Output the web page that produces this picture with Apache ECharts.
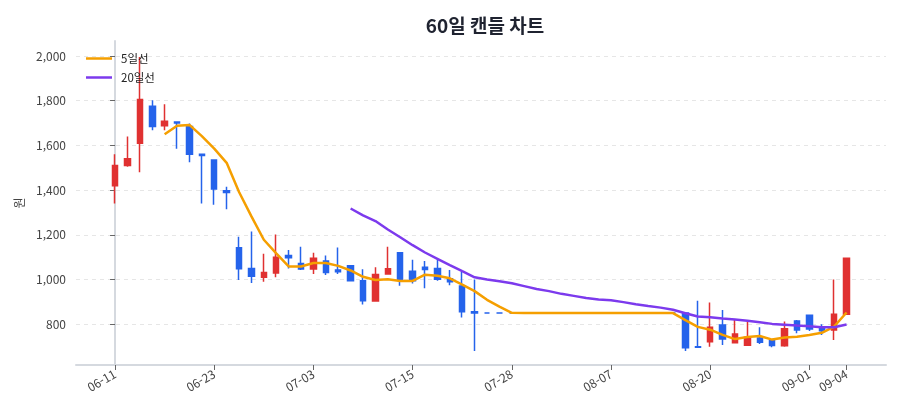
<!DOCTYPE html>
<html lang="ko">
<head>
  <meta charset="UTF-8">
  <title>60일 캔들 차트</title>
  <script src="https://cdn.jsdelivr.net/npm/echarts@6/dist/echarts.min.js"></script>
  <style>
    html, body {
      margin: 0;
      padding: 0;
      background: #fff;
    }

    #main {
      width: 900px;
      height: 420px;
    }
  </style>
</head>
<body>
<div id="main"></div>
<script>
  // 거래일 (07-25 없음, 08-15 휴장)
  var dates = ['06-11', '06-12', '06-13', '06-16', '06-17', '06-18', '06-19', '06-20', '06-23', '06-24',
    '06-25', '06-26', '06-27', '06-30', '07-01', '07-02', '07-03', '07-04', '07-07', '07-08',
    '07-09', '07-10', '07-11', '07-14', '07-15', '07-16', '07-17', '07-18', '07-21', '07-22',
    '07-23', '07-24', '07-28', '07-29', '07-30', '07-31', '08-01', '08-04', '08-05', '08-06',
    '08-07', '08-08', '08-11', '08-12', '08-13', '08-14', '08-18', '08-19', '08-20', '08-21',
    '08-22', '08-25', '08-26', '08-27', '08-28', '08-29', '09-01', '09-02', '09-03', '09-04']

  var openP = [1420, 1510, 1610, 1775, 1688, 1705, 1685, 1560, 1535, 1397,
    1142, 1050, 1010, 1030, 1108, 1072, 1047, 1083, 1043, 1062,
    995, 904, 1025, 1120, 1037, 1055, 1050, 1004, 971, 856,
    850, 850, 850, 850, 850, 850, 850, 850, 850, 850,
    850, 850, 850, 850, 850, 850, 850, 700, 722, 797,
    718, 706, 739, 727, 704, 815, 840, 789, 775, 845]
  var closeP = [1510, 1540, 1805, 1685, 1708, 1700, 1560, 1555, 1405, 1390,
    1048, 1015, 1032, 1100, 1098, 1047, 1095, 1032, 1035, 995,
    905, 1023, 1048, 998, 995, 1045, 1001, 990, 856, 850,
    850, 850, 850, 850, 850, 850, 850, 850, 850, 850,
    850, 850, 850, 850, 850, 850, 695, 697, 787, 734,
    757, 742, 720, 705, 780, 775, 779, 771, 845, 1095]
  var lowP = [1340, 1505, 1480, 1668, 1668, 1585, 1525, 1340, 1335, 1315,
    998, 985, 990, 1010, 1050, 1043, 1025, 1020, 1025, 992,
    889, 901, 1025, 972, 983, 961, 995, 975, 830, 681,
    850, 850, 850, 850, 850, 850, 850, 850, 850, 850,
    850, 850, 850, 850, 850, 850, 681, 696, 700, 708,
    715, 706, 712, 697, 700, 760, 770, 752, 730, 843]
  var highP = [1560, 1640, 1995, 1802, 1784, 1708, 1698, 1562, 1535, 1415,
    1192, 1215, 1115, 1202, 1132, 1147, 1120, 1108, 1144, 1064,
    1046, 1055, 1147, 1120, 1089, 1083, 1089, 1043, 1035, 1000,
    850, 850, 850, 850, 850, 850, 850, 850, 850, 850,
    850, 850, 850, 850, 850, 850, 850, 905, 898, 864,
    819, 812, 787, 733, 812, 819, 840, 800, 1000, 1095]

  // 5일선 / 20일선
  var ma5 = [null, null, null, null, 1649.6, 1687.6, 1691.6, 1641.6, 1585.6, 1522,
    1391.6, 1282.6, 1178, 1117, 1058.6, 1058.4, 1074.4, 1074.4, 1061.4, 1040.8,
    1012.4, 998, 1001.2, 993.8, 993.8, 1021.8, 1017.4, 1005.8, 977.4, 948.4,
    909.4, 879.2, 851.2, 850, 850, 850, 850, 850, 850, 850,
    850, 850, 850, 850, 850, 850, 819, 788.4, 775.8, 752.6,
    734, 743.4, 748, 731.6, 740.8, 744.4, 751.8, 762, 790, 853]
  var ma20 = [null, null, null, null, null, null, null, null, null, null,
    null, null, null, null, null, null, null, null, null, 1317.8,
    1287.5, 1261.7, 1223.8, 1189.5, 1153.8, 1121.1, 1093.1, 1064.9, 1037.4, 1010.4,
    1000.5, 992.3, 983.2, 970.7, 958.3, 948.4, 936.2, 927.1, 917.8, 910.6,
    907.8, 899.2, 889.3, 881.9, 874.6, 864.9, 849.6, 834.9, 831.5, 825.7,
    821, 815.6, 809.1, 801.9, 798.4, 794.6, 791.1, 787.1, 786.9, 799.1]

  var xTicks = [0, 8, 16, 24, 32, 40, 48, 56, 59]
  var yTicks = [800, 1000, 1200, 1400, 1600, 1800, 2000]

  var upColor = '#e03131'
  var downColor = '#2563eb'

  var candleData = []
  for (var i = 0; i < dates.length; i++) {
    var item = {value: [i, openP[i], closeP[i], lowP[i], highP[i]]}
    if (openP[i] === closeP[i]) {
      // 보합은 하락색
      item.itemStyle = {color: downColor, borderColor: downColor}
    }
    candleData.push(item)
  }
  var ma5Data = ma5.map(function (v, i) { return [i, v] })
  var ma20Data = ma20.map(function (v, i) { return [i, v] })

  var myChart = echarts.init(document.getElementById('main'))

  var option = {
    backgroundColor: '#fff',
    animation: false,
    title: {
      text: '60일 캔들 차트',
      left: 480,
      top: 11,
      textAlign: 'center',
      textStyle: {
        fontFamily: 'Noto Sans CJK KR',
        fontSize: 19,
        fontWeight: 'bold',
        color: '#1f2330'
      }
    },
    legend: {
      orient: 'vertical',
      left: 81,
      top: 46.5,
      icon: 'rect',
      itemWidth: 26,
      itemHeight: 2.5,
      itemGap: 5,
      textStyle: {
        fontFamily: 'Noto Sans CJK KR',
        fontSize: 11.5,
        lineHeight: 14,
        color: '#222',
        padding: [0, 0, 0, 4]
      },
      data: ['5일선', '20일선']
    },
    grid: {
      left: 76,
      right: 14,
      top: 41,
      bottom: 55
    },
    xAxis: {
      type: 'value',
      min: -3.15,
      max: 62.18,
      axisLine: {show: true, onZero: false, lineStyle: {color: '#d5d9df', width: 2}},
      axisTick: {show: true, length: 5, customValues: xTicks, lineStyle: {color: '#666'}},
      axisLabel: {
        customValues: xTicks,
        rotate: 30,
        margin: 8,
        fontFamily: 'Noto Sans CJK KR',
        fontSize: 12,
        color: '#444',
        formatter: function (v) { return dates[Math.round(v)] }
      },
      splitLine: {show: false}
    },
    yAxis: {
      type: 'value',
      min: 618,
      max: 2067,
      name: '원',
      nameLocation: 'middle',
      nameGap: 47,
      nameRotate: 90,
      nameTextStyle: {fontFamily: 'Noto Sans CJK KR', fontSize: 12, color: '#444'},
      axisLine: {show: true, lineStyle: {color: '#d5d9df', width: 2}},
      axisTick: {show: true, length: 5, customValues: yTicks, lineStyle: {color: '#666'}},
      axisLabel: {
        customValues: yTicks,
        margin: 10,
        fontFamily: 'Noto Sans CJK KR',
        fontSize: 12,
        color: '#444',
        formatter: function (v) { return v.toLocaleString('en-US') }
      },
      splitLine: {show: true, lineStyle: {color: '#e6e6e6', type: [4, 4], width: 1}}
    },
    series: [
      {
        name: '캔들',
        type: 'candlestick',
        barWidth: 6,
        itemStyle: {
          color: upColor,
          color0: downColor,
          borderColor: upColor,
          borderColor0: downColor,
          borderColorDoji: downColor,
          borderWidth: 1.5
        },
        encode: {x: 0, y: [1, 2, 3, 4]},
        data: candleData,
        z: 2
      },
      {
        name: '5일선',
        type: 'line',
        data: ma5Data,
        symbol: 'none',
        connectNulls: false,
        lineStyle: {color: '#f59f00', width: 2.5},
        itemStyle: {color: '#f59f00'},
        z: 3
      },
      {
        name: '20일선',
        type: 'line',
        data: ma20Data,
        symbol: 'none',
        lineStyle: {color: '#7c3aed', width: 2.5},
        itemStyle: {color: '#7c3aed'},
        z: 3
      }
    ]
  }

  myChart.setOption(option)
</script>
</body>
</html>
